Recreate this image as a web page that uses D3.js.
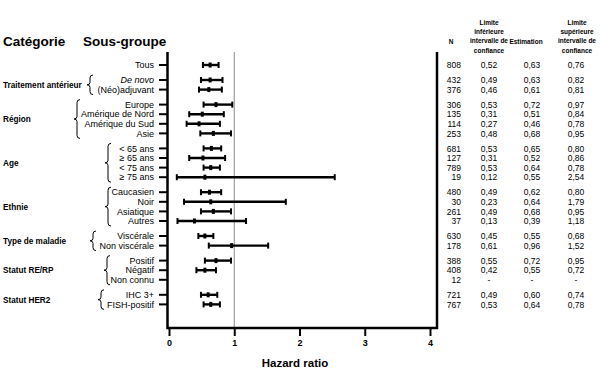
<!DOCTYPE html>
<html>
<head>
<meta charset="utf-8">
<script src="https://cdn.jsdelivr.net/npm/d3@7"></script>
<style>
  body { margin: 0; background: #fff; }
  svg { font-family: "Liberation Sans", Arial, sans-serif; }
</style>
</head>
<body>
<svg id="chart" width="601" height="378"></svg>
<script>
// --- data ---
const groups = ["", "Traitement antérieur", "Région", "Age", "Ethnie", "Type de maladie", "Statut RE/RP", "Statut HER2"];
const subgroups = ["Tous", "De novo", "(Néo)adjuvant", "Europe", "Amérique de Nord", "Amérique du Sud", "Asie",
  "< 65 ans", "≥ 65 ans", "< 75 ans", "≥ 75 ans", "Caucasien", "Noir", "Asiatique", "Autres",
  "Viscérale", "Non viscérale", "Positif", "Négatif", "Non connu", "IHC 3+", "FISH-positif"];
const groupOf = [0, 1, 1, 2, 2, 2, 2, 3, 3, 3, 3, 4, 4, 4, 4, 5, 5, 6, 6, 6, 7, 7];
const nValues = [808, 432, 376, 306, 135, 114, 253, 681, 127, 789, 19, 480, 30, 261, 37, 630, 178, 388, 408, 12, 721, 767];
const lower = [0.52, 0.49, 0.46, 0.53, 0.31, 0.27, 0.48, 0.53, 0.31, 0.53, 0.12, 0.49, 0.23, 0.49, 0.13, 0.45, 0.61, 0.55, 0.42, null, 0.49, 0.53];
const estimate = [0.63, 0.63, 0.61, 0.72, 0.51, 0.46, 0.68, 0.65, 0.52, 0.64, 0.55, 0.62, 0.64, 0.68, 0.39, 0.55, 0.96, 0.72, 0.55, null, 0.60, 0.64];
const upper = [0.76, 0.82, 0.81, 0.97, 0.84, 0.78, 0.95, 0.80, 0.86, 0.78, 2.54, 0.80, 1.79, 0.95, 1.18, 0.68, 1.52, 0.95, 0.72, null, 0.74, 0.78];
const xTicks = [0, 1, 2, 3, 4];

// brace x position for each group (layout, not data)
const braceX = [null, 90, 77, 108, 108, 93, 107, 101];

const svg = d3.select("#chart");
const font = '"Liberation Sans", Arial, sans-serif';

const x = d3.scaleLinear().domain([0, 4]).range([169, 430]);
// slot: row index plus half a row of extra gap between groups
const y = d3.scaleLinear().domain([0, 1]).range([65, 74.6]);
const slot = i => i + groupOf[i] * 0.5625;
const rowY = i => y(slot(i));

const plotTop = 52, plotBottom = 328, axisLeft = 167.5, tableLine = 437;

const rows = subgroups.map((s, i) => ({
  label: s, g: groupOf[i], n: nValues[i], lo: lower[i], est: estimate[i], hi: upper[i], y: rowY(i)
}));

// titles
svg.append("text").attr("x", 3).attr("y", 46).attr("font-size", 13.5).attr("font-weight", "bold").text("Catégorie");
svg.append("text").attr("x", 83).attr("y", 46).attr("font-size", 13.5).attr("font-weight", "bold").text("Sous-groupe");

// reference line at HR = 1
svg.append("line")
  .attr("x1", x(1)).attr("x2", x(1)).attr("y1", plotTop).attr("y2", plotBottom)
  .attr("stroke", "#8a8a8a").attr("stroke-width", 1);

// frame
const frame = svg.append("g").attr("stroke", "#000").attr("stroke-width", 2.5).attr("fill", "none");
frame.append("path").attr("d", `M${axisLeft},${plotTop}V${plotBottom}H${tableLine}V${plotTop}`);

// x axis
const xAxis = svg.append("g")
  .attr("transform", `translate(0,${plotBottom})`)
  .call(d3.axisBottom(x).tickValues(xTicks).tickSize(8).tickPadding(4).tickFormat(d3.format("d")));
xAxis.select(".domain").remove();
xAxis.selectAll(".tick line").attr("stroke", "#000").attr("stroke-width", 2);
xAxis.selectAll(".tick text").attr("font-family", font).attr("font-size", 9).attr("font-weight", "bold").attr("fill", "#000");

svg.append("text").attr("x", 295).attr("y", 367).attr("text-anchor", "middle")
  .attr("font-size", 11.5).attr("font-weight", "bold").text("Hazard ratio");

// row ticks on the left axis + labels
const row = svg.append("g").selectAll("g").data(rows).join("g")
  .attr("transform", d => `translate(0,${d.y})`);

row.append("line").attr("x1", 159).attr("x2", axisLeft).attr("stroke", "#000").attr("stroke-width", 2);
row.append("text")
  .attr("x", 154).attr("y", 3.2).attr("text-anchor", "end").attr("font-size", 9)
  .attr("font-style", d => d.label === "De novo" ? "italic" : null)
  .text(d => d.label);

// CI bars
const ci = row.filter(d => d.lo != null);
ci.append("line").attr("x1", d => x(d.lo)).attr("x2", d => x(d.hi))
  .attr("stroke", "#000").attr("stroke-width", 2.4);
ci.append("rect").attr("x", d => x(d.lo) - 1).attr("y", -3).attr("width", 2).attr("height", 6);
ci.append("rect").attr("x", d => x(d.hi) - 1).attr("y", -3).attr("width", 2).attr("height", 6);
ci.append("rect").attr("x", d => x(d.est) - 1.5).attr("y", -2.5).attr("width", 3).attr("height", 5);

// category labels and braces
const grp = groups.map((name, g) => {
  const ys = rows.filter(r => r.g === g).map(r => r.y);
  return { name, g, y0: d3.min(ys), y1: d3.max(ys) };
}).filter(d => d.name);

svg.append("g").selectAll("text").data(grp).join("text")
  .attr("x", 3).attr("y", d => (d.y0 + d.y1) / 2 + 3)
  .attr("font-size", 8.2).attr("font-weight", "bold")
  .text(d => d.name);

function brace(d) {
  const bx = braceX[d.g], t = d.y0 - 5, b = d.y1 + 5, m = (t + b) / 2;
  return `M${bx + 3},${t}Q${bx},${t} ${bx},${t + 3}V${m - 2.5}Q${bx},${m} ${bx - 3},${m}` +
    `Q${bx},${m} ${bx},${m + 2.5}V${b - 3}Q${bx},${b} ${bx + 3},${b}`;
}
svg.append("g").selectAll("path").data(grp).join("path")
  .attr("d", brace).attr("fill", "none").attr("stroke", "#000").attr("stroke-width", 1);

// table
const fmt = v => v == null ? "-" : d3.format(".2f")(v).replace(".", ",");
const cols = [
  { x: 461, anchor: "end", val: d => d.n },
  { x: 489, anchor: "middle", val: d => fmt(d.lo) },
  { x: 532, anchor: "middle", val: d => fmt(d.est) },
  { x: 576, anchor: "middle", val: d => fmt(d.hi) }
];
cols.forEach(c => {
  svg.append("g").selectAll("text").data(rows).join("text")
    .attr("x", c.x).attr("y", d => d.y + 3.2).attr("text-anchor", c.anchor)
    .attr("font-size", 8.5).text(c.val);
});

const headers = [
  { x: 451, lines: ["N"], y0: 43.5 },
  { x: 489, lines: ["Limite", "inférieure", "intervalle de", "confiance"], y0: 25 },
  { x: 526, lines: ["Estimation"], y0: 43.5 },
  { x: 577, lines: ["Limite", "supérieure", "intervalle de", "confiance"], y0: 25 }
];
headers.forEach(h => {
  svg.append("g").selectAll("text").data(h.lines).join("text")
    .attr("x", h.x).attr("y", (d, i) => h.y0 + i * 9.2).attr("text-anchor", "middle")
    .attr("font-size", 6.5).attr("font-weight", "bold").text(d => d);
});
</script>
</body>
</html>
